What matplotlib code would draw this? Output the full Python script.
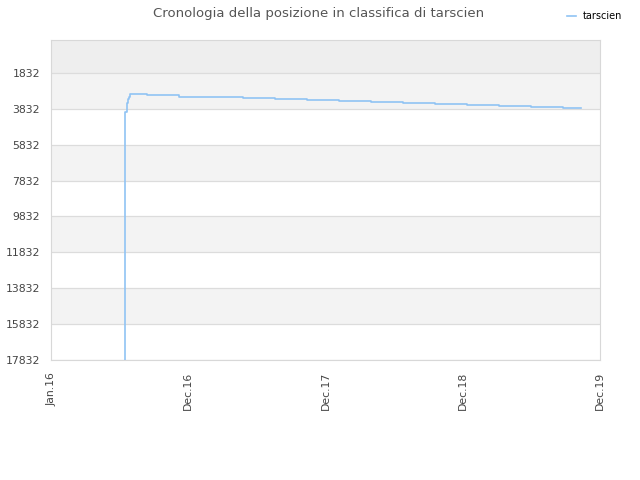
import matplotlib
matplotlib.use("Agg")
import matplotlib.pyplot as plt
import matplotlib.dates as mdates
import pandas as pd

# posizione in classifica nel tempo (step)
date = ["2016-07-15", "2016-07-15", "2016-07-17", "2016-07-20", "2016-07-22",
        "2016-07-24", "2016-07-27", "2016-07-29", "2016-09-12", "2016-12-06",
        "2017-03-01", "2017-05-25", "2017-08-18", "2017-11-11", "2018-02-04",
        "2018-05-01", "2018-07-25", "2018-10-18", "2019-01-11", "2019-04-06",
        "2019-06-30", "2019-09-23", "2019-11-10"]
posizione = [18500, 4300, 4000, 3800, 3500,
             3300, 3150, 3030, 3090, 3150,
             3200, 3260, 3310, 3370, 3420,
             3480, 3535, 3590, 3650, 3700,
             3760, 3815, 3815]

y_ticks = [1832, 3832, 5832, 7832, 9832, 11832, 13832, 15832, 17832]
x_tick_dates = ["2016-01-01", "2016-12-31", "2017-12-31", "2018-12-31", "2019-12-31"]
x_tick_labels = ["Jan.16", "Dec.16", "Dec.17", "Dec.18", "Dec.19"]

date = pd.to_datetime(date)
x_ticks = pd.to_datetime(x_tick_dates)

fig = plt.figure(figsize=(6.4, 4.8), dpi=100)
ax = fig.add_axes([0.0797, 0.25, 0.8578, 0.6667])

# fasce di sfondo alternate
y_top = 0
ax.axhspan(y_top, y_ticks[0], color="#eeeeee", zorder=0, lw=0)
for i in range(len(y_ticks) - 1):
    if i % 2 == 0:
        ax.axhspan(y_ticks[i], y_ticks[i + 1], color="#f3f3f3", zorder=0, lw=0)
for yt in y_ticks:
    ax.axhline(yt, color="#dcdcdc", lw=0.9, zorder=1)

ax.plot(date, posizione, drawstyle="steps-post", color="#90c3f4", lw=1.2,
        label="tarscien", zorder=3)

ax.set_xlim(x_ticks[0], x_ticks[-1])
ax.set_ylim(y_ticks[-1], y_top)
ax.set_yticks(y_ticks)
ax.set_yticklabels([str(v) for v in y_ticks], fontsize=7.8, color="#444444")
ax.set_xticks(x_ticks)
ax.set_xticklabels(x_tick_labels, rotation=90, fontsize=7.8, color="#444444")
ax.tick_params(axis="y", length=0, pad=8)
ax.tick_params(axis="x", length=0, pad=8.5)

for s in ax.spines.values():
    s.set_color("#d8d8d8")

fig.suptitle("Cronologia della posizione in classifica di tarscien",
             x=0.497, y=0.985, fontsize=9.5, color="#555555")
fig.legend(loc="upper right", bbox_to_anchor=(0.985, 0.995), frameon=False,
           fontsize=7, handlelength=1.0, handletextpad=0.6)

fig.savefig("out.png", dpi=100)
